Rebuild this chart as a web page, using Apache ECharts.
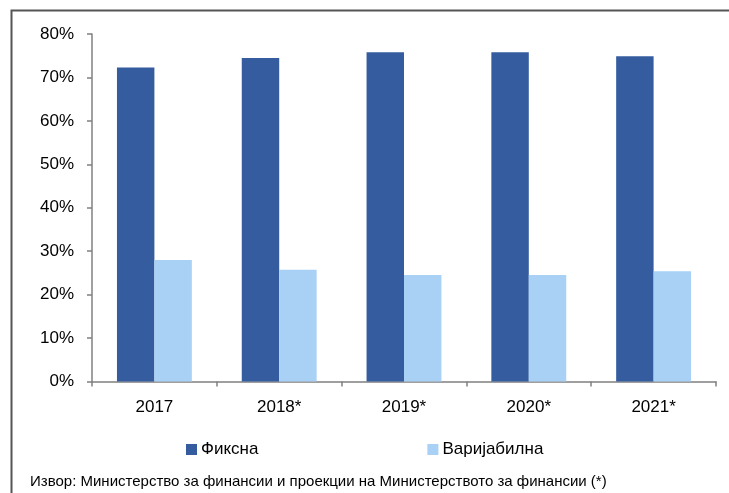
<!DOCTYPE html>
<html>
<head>
<meta charset="utf-8">
<script src="https://cdn.jsdelivr.net/npm/echarts@6/dist/echarts.min.js"></script>
<style>
  html, body { margin: 0; padding: 0; background: #fff; }
  #chart { width: 729px; height: 493px; }
</style>
</head>
<body>
<div id="chart"></div>
<script>
// категории и вредности (удел во %)
var years = ["2017", "2018*", "2019*", "2020*", "2021*"];
var fixedShare = [72.3, 74.5, 75.8, 75.8, 74.9];
var variableShare = [28.0, 25.7, 24.5, 24.5, 25.4];
var seriesNames = ["Фиксна", "Варијабилна"];
var sourceText = "Извор: Министерство за финансии и проекции на Министерството за финансии (*)";

var font = "'Liberation Sans', Arial, sans-serif";
var myChart = echarts.init(document.getElementById("chart"));

var option = {
  animation: false,
  color: ["#355C9F", "#A9D0F5"],
  textStyle: { fontFamily: font },
  graphic: [
    {
      type: "rect",
      shape: { x: 11.5, y: 10.5, width: 740, height: 500 },
      style: { fill: "none", stroke: "#555", lineWidth: 2 },
      silent: true
    },
    {
      type: "text",
      left: 30,
      top: 474,
      style: { text: sourceText, fill: "#000", font: "15px " + font }
    }
  ],
  legend: {
    left: 181,
    top: 436,
    itemWidth: 11,
    itemHeight: 11,
    itemGap: 169,
    icon: "rect",
    textStyle: { fontSize: 17, color: "#000", fontFamily: font, padding: [0, 0, 0, -1] },
    data: seriesNames
  },
  grid: {
    left: 92,
    right: 13,
    top: 34,
    bottom: 111.5
  },
  xAxis: {
    type: "category",
    data: years,
    axisLine: { lineStyle: { color: "#808080", width: 1.5 } },
    axisTick: { show: true, length: 5, lineStyle: { color: "#808080", width: 1.5 } },
    axisLabel: { color: "#000", fontSize: 17, margin: 17, fontFamily: font }
  },
  yAxis: {
    type: "value",
    min: 0,
    max: 80,
    interval: 10,
    axisLine: { show: true, lineStyle: { color: "#808080", width: 1.5 } },
    axisTick: { show: true, length: 5, lineStyle: { color: "#808080", width: 1.5 } },
    splitLine: { show: false },
    axisLabel: {
      color: "#000",
      fontSize: 17,
      margin: 18,
      fontFamily: font,
      formatter: "{value}%"
    }
  },
  series: [
    {
      name: seriesNames[0],
      type: "bar",
      data: fixedShare,
      barGap: "0%",
      barCategoryGap: "40%"
    },
    {
      name: seriesNames[1],
      type: "bar",
      data: variableShare,
      barGap: "0%",
      barCategoryGap: "40%"
    }
  ]
};

myChart.setOption(option);
window.addEventListener("resize", function () {
  if (myChart) myChart.resize();
});
</script>
</body>
</html>
